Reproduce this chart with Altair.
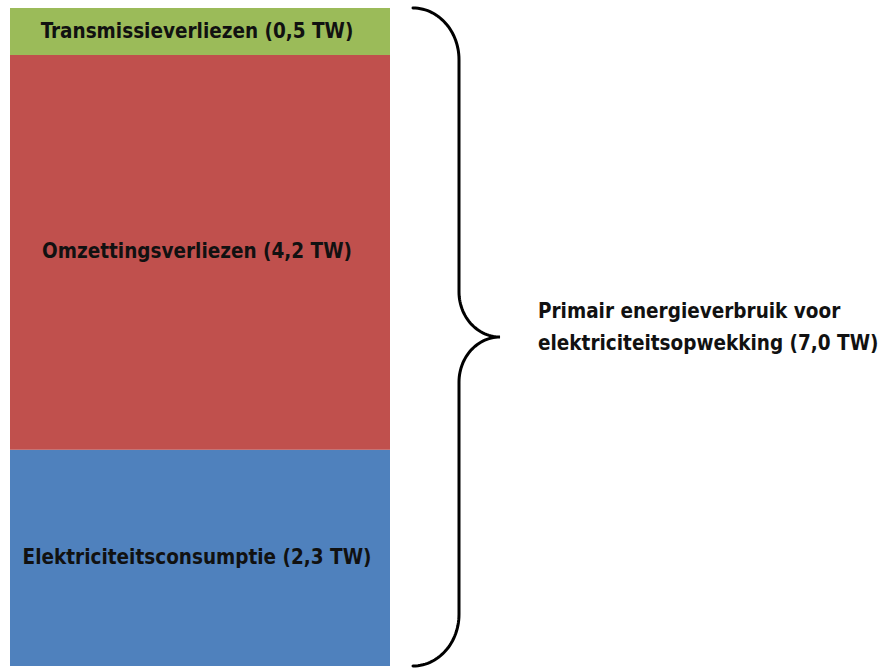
import altair as alt
import numpy as np
import pandas as pd

# Electricity generation breakdown (TW), stacked bottom to top
categories = ["Elektriciteitsconsumptie", "Omzettingsverliezen", "Transmissieverliezen"]
values_tw = [2.3, 4.2, 0.5]
colors = ["#4F81BD", "#C0504D", "#9BBB59"]
total_text = ["Primair energieverbruik voor", "elektriciteitsopwekking"]

FONT = "DejaVu Sans Condensed"
FONT_SIZE = 20.5

def fmt(v):
    return f"{v:.1f}".replace(".", ",")

df = pd.DataFrame({"cat": categories, "tw": values_tw})
df["y1"] = df["tw"].cumsum()
df["y0"] = df["y1"] - df["tw"]
df["mid"] = (df["y0"] + df["y1"]) / 2
df["label"] = df["cat"] + " (" + df["tw"].map(fmt) + " TW)"

total = float(df["tw"].sum())
tot_df = pd.DataFrame({
    "y": [total / 2],
    "label": [total_text[0] + "\n" + total_text[1] + " (" + fmt(total) + " TW)"],
})

# Curly brace spanning the whole stack, built from four elliptical arcs
x_end, x_spine, x_tip = 413, 459, 500
ry_end, ry_mid = 0.55, 0.48
n = 30
parts = []
t = np.linspace(np.pi / 2, 0, n)
parts.append((x_end + (x_spine - x_end) * np.cos(t), (total - ry_end) + ry_end * np.sin(t)))
t = np.linspace(np.pi, 1.5 * np.pi, n)
parts.append((x_tip + (x_tip - x_spine) * np.cos(t), (total / 2 + ry_mid) + ry_mid * np.sin(t)))
t = np.linspace(0.5 * np.pi, np.pi, n)
parts.append((x_tip + (x_tip - x_spine) * np.cos(t), (total / 2 - ry_mid) + ry_mid * np.sin(t)))
t = np.linspace(0, -np.pi / 2, n)
parts.append((x_end + (x_spine - x_end) * np.cos(t), ry_end + ry_end * np.sin(t)))
bx = np.concatenate([p[0] for p in parts])
by = np.concatenate([p[1] for p in parts])
brace = pd.DataFrame({"x": bx, "y": by, "i": np.arange(len(bx))})

yscale = alt.Scale(domain=[0, total], nice=False, zero=True)
xscale = alt.Scale(domain=[0, 880], nice=False)

bars = alt.Chart(df).mark_bar(stroke=None).encode(
    x=alt.value(10),
    x2=alt.value(390),
    y=alt.Y("y0:Q", scale=yscale, axis=None),
    y2="y1:Q",
    color=alt.Color("cat:N", scale=alt.Scale(domain=categories, range=colors), legend=None),
)

labels = alt.Chart(df).mark_text(
    font=FONT, fontWeight="bold", fontSize=FONT_SIZE, color="#111111", align="center", baseline="middle"
).encode(
    x=alt.value(197),
    y=alt.Y("mid:Q", scale=yscale, axis=None),
    text="label:N",
)

brace_line = alt.Chart(brace).mark_line(color="#000000", strokeWidth=3, strokeCap="round").encode(
    x=alt.X("x:Q", scale=xscale, axis=None),
    y=alt.Y("y:Q", scale=yscale, axis=None),
    order="i:Q",
)

total_label = alt.Chart(tot_df).mark_text(
    font=FONT, fontWeight="bold", fontSize=FONT_SIZE, color="#111111", align="left",
    baseline="middle", lineBreak="\n", lineHeight=32, dy=-25,
).encode(
    x=alt.value(538),
    y=alt.Y("y:Q", scale=yscale, axis=None),
    text="label:N",
)

chart = alt.layer(bars, labels, brace_line, total_label).properties(
    width=880,
    height=658,
    padding={"top": 8, "bottom": 2, "left": 0, "right": 0},
    autosize=alt.AutoSizeParams(type="none"),
    background="white",
).configure_view(stroke=None)

chart.save("out.html", embed_options={"renderer": "svg", "actions": False})
